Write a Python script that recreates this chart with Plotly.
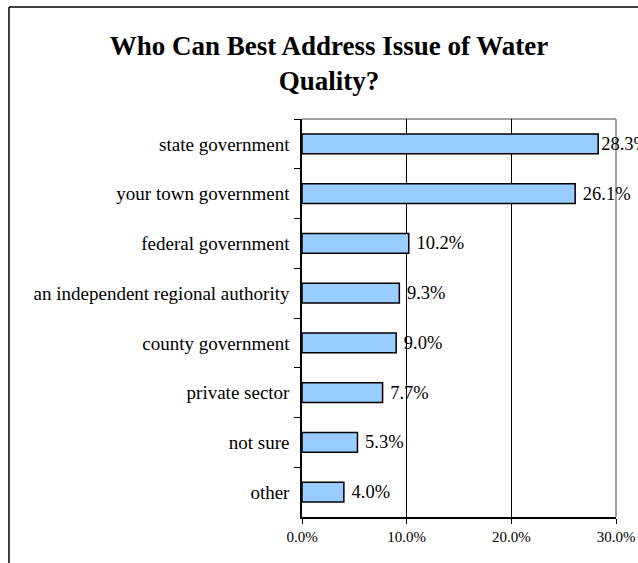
import plotly.graph_objects as go

categories = ["state government", "your town government", "federal government",
              "an independent regional authority", "county government",
              "private sector", "not sure", "other"]
values = [28.3, 26.1, 10.2, 9.3, 9.0, 7.7, 5.3, 4.0]
x_tickvals = [0, 10, 20, 30]
x_ticktext = ["0.0%", "10.0%", "20.0%", "30.0%"]
title_text = "Who Can Best Address Issue of Water<br>Quality?"

W, H = 638, 563
ML, MR, MT, MB = 302, 22, 119, 46
PW, PH = W - ML - MR, H - MT - MB
X_MAX = 30

def px_x(p):
    return (p - ML) / PW

def px_y(p):
    return (H - MB - p) / PH

FONT = "Liberation Serif"

# labels near the right edge get no extra gap so they stay inside the chart
labels = [("" if v > 0.9 * X_MAX else "\u00a0") + f"{v:.1f}%" for v in values]

fig = go.Figure()
fig.add_trace(go.Bar(
    y=categories, x=values, orientation="h",
    marker=dict(color="#99CCFF", line=dict(color="black", width=1.5)),
    text=labels, textposition="outside",
    textfont=dict(family=FONT, size=18.5, color="black"),
    cliponaxis=False, constraintext="none", width=0.4,
))

fig.update_layout(
    width=W, height=H,
    margin=dict(l=ML, r=MR, t=MT, b=MB, autoexpand=False),
    paper_bgcolor="white", plot_bgcolor="white",
    showlegend=False,
    font=dict(family=FONT, color="black"),
    title=dict(text=title_text, x=329 / W, xanchor="center", y=1 - 55 / H, yanchor="top",
               font=dict(family=FONT, size=27, color="black", weight="bold")),
    xaxis=dict(range=[0, X_MAX], tickvals=x_tickvals, ticktext=x_ticktext,
               showgrid=True, gridcolor="black", gridwidth=1,
               showline=True, linecolor="black", linewidth=1.5,
               ticks="outside", ticklen=5, tickcolor="black",
               tickfont=dict(family=FONT, size=15, color="black"), zeroline=False),
    yaxis=dict(autorange="reversed", type="category", tickson="boundaries",
               showline=True, linecolor="black", linewidth=1.5,
               ticks="outside", ticklen=6, tickcolor="black", showgrid=False,
               tickfont=dict(family=FONT, size=19, color="black"),
               ticklabelstandoff=7),
    shapes=[
        dict(type="line", xref="paper", yref="paper", x0=0, x1=1, y0=1, y1=1,
             line=dict(color="#808080", width=1.5), layer="below"),
        dict(type="line", xref="paper", yref="paper", x0=1, x1=1, y0=0, y1=1,
             line=dict(color="#808080", width=1.5), layer="below"),
        dict(type="line", xref="paper", yref="paper", x0=px_x(9), x1=px_x(9), y0=px_y(7), y1=px_y(H + 5),
             line=dict(color="black", width=1.5)),
        dict(type="line", xref="paper", yref="paper", x0=px_x(9), x1=px_x(W + 5), y0=px_y(7), y1=px_y(7),
             line=dict(color="black", width=1.5)),
    ],
)

fig.write_html("out.html", config={"displayModeBar": False},
               post_script="document.body.style.margin='0';document.body.style.overflow='hidden';")
